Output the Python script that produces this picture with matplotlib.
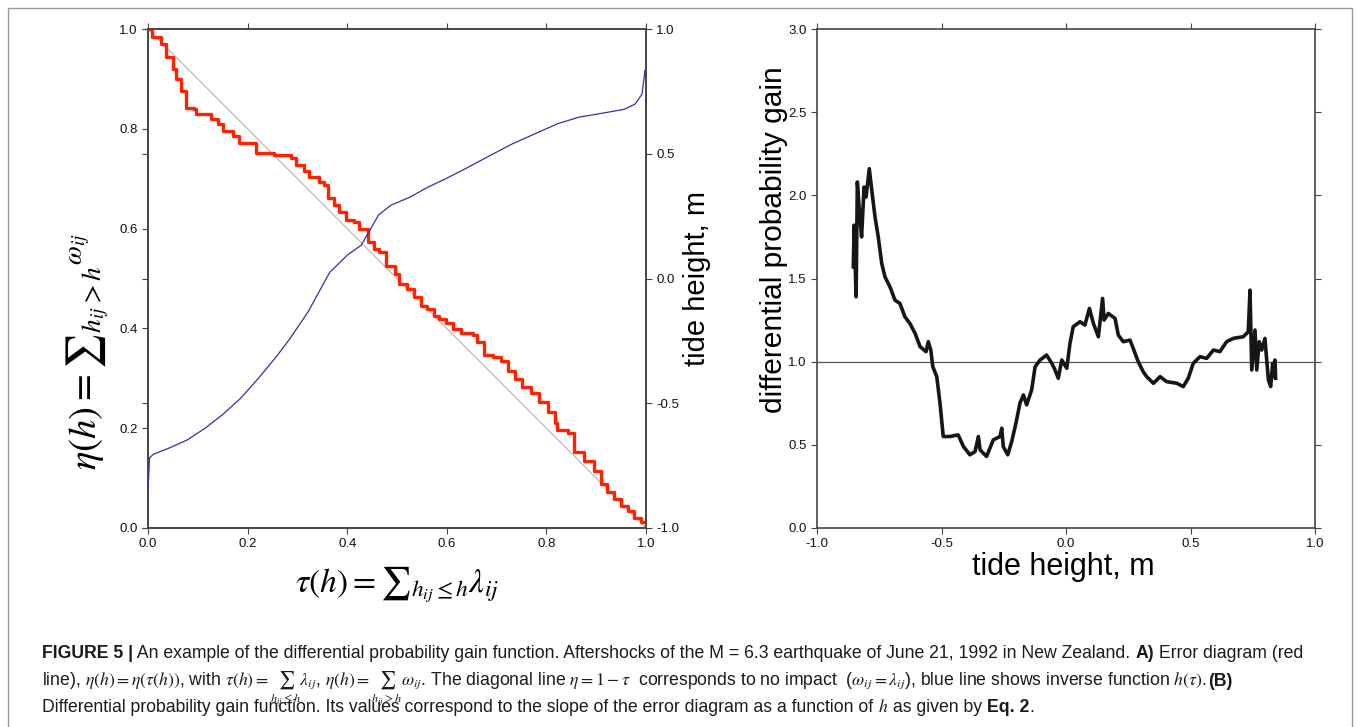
import numpy as np
import matplotlib
matplotlib.use('Agg')
import matplotlib.pyplot as plt
from matplotlib import font_manager
from matplotlib.patches import Rectangle
from matplotlib.ticker import FormatStrFormatter

# error diagram (red)
tau_err = [0.0, 0.006, 0.009, 0.026, 0.036, 0.05, 0.056, 0.066, 0.076, 0.093, 0.096, 0.123,
           0.127, 0.14, 0.15, 0.167, 0.17, 0.183, 0.214, 0.217, 0.254, 0.287, 0.297, 0.314,
           0.324, 0.344, 0.354, 0.361, 0.374, 0.384, 0.398, 0.414, 0.424, 0.441, 0.454, 0.464,
           0.478, 0.495, 0.505, 0.521, 0.535, 0.548, 0.561, 0.575, 0.584, 0.598, 0.612, 0.629,
           0.652, 0.66, 0.674, 0.692, 0.709, 0.723, 0.737, 0.752, 0.769, 0.785, 0.803, 0.817,
           0.822, 0.843, 0.856, 0.875, 0.896, 0.91, 0.922, 0.936, 0.95, 0.963, 0.976, 0.99, 1.0]
eta_err = [1.0, 1.0, 0.984, 0.97, 0.943, 0.92, 0.9, 0.876, 0.842, 0.839, 0.829, 0.829,
           0.819, 0.809, 0.795, 0.795, 0.785, 0.772, 0.772, 0.752, 0.748, 0.741, 0.728, 0.715,
           0.704, 0.694, 0.688, 0.661, 0.647, 0.634, 0.617, 0.614, 0.6, 0.573, 0.56, 0.553,
           0.526, 0.509, 0.489, 0.479, 0.462, 0.445, 0.438, 0.425, 0.418, 0.41, 0.398, 0.39,
           0.386, 0.372, 0.346, 0.342, 0.334, 0.314, 0.298, 0.283, 0.27, 0.252, 0.233, 0.21,
           0.196, 0.19, 0.152, 0.135, 0.115, 0.089, 0.072, 0.059, 0.045, 0.034, 0.021, 0.012, 0.0]

# inverse function h(tau) (blue)
tau_inv = [0.0, 0.003, 0.011, 0.042, 0.078, 0.114, 0.150, 0.185, 0.221, 0.257, 0.284, 0.321,
           0.365, 0.401, 0.428, 0.463, 0.488, 0.526, 0.562, 0.598, 0.642, 0.687, 0.732, 0.777,
           0.822, 0.866, 0.911, 0.956, 0.978, 0.992, 0.998]
h_inv = [-0.854, -0.719, -0.704, -0.680, -0.648, -0.601, -0.545, -0.482, -0.402, -0.315, -0.244,
         -0.135, 0.025, 0.095, 0.133, 0.255, 0.294, 0.326, 0.366, 0.400, 0.445, 0.493, 0.540,
         0.580, 0.620, 0.647, 0.662, 0.678, 0.699, 0.739, 0.834]

# differential probability gain (right panel)
h_dpg = [-0.854, -0.851, -0.843, -0.838, -0.830, -0.821, -0.811, -0.803, -0.790, -0.780, -0.767,
         -0.754, -0.740, -0.727, -0.707, -0.687, -0.667, -0.647, -0.627, -0.606, -0.586, -0.562,
         -0.553, -0.543, -0.535, -0.519, -0.506, -0.493, -0.466, -0.433, -0.412, -0.386, -0.365,
         -0.352, -0.345, -0.319, -0.292, -0.265, -0.258, -0.252, -0.234, -0.218, -0.201, -0.185,
         -0.171, -0.158, -0.138, -0.124, -0.104, -0.078, -0.057, -0.044, -0.031, -0.017, 0.003,
         0.016, 0.029, 0.056, 0.076, 0.094, 0.110, 0.130, 0.147, 0.153, 0.170, 0.197, 0.210,
         0.230, 0.257, 0.270, 0.290, 0.310, 0.324, 0.351, 0.378, 0.404, 0.445, 0.471, 0.491,
         0.511, 0.538, 0.565, 0.592, 0.618, 0.645, 0.672, 0.712, 0.732, 0.739, 0.746, 0.759,
         0.766, 0.776, 0.786, 0.799, 0.806, 0.813, 0.822, 0.830, 0.835, 0.839, 0.842]
gain = [1.57, 1.82, 1.39, 2.08, 1.91, 1.75, 2.05, 1.99, 2.16, 2.03, 1.87, 1.75, 1.59, 1.51,
        1.45, 1.37, 1.35, 1.27, 1.23, 1.17, 1.09, 1.06, 1.12, 1.07, 0.97, 0.91, 0.75, 0.55,
        0.55, 0.56, 0.49, 0.44, 0.46, 0.55, 0.47, 0.43, 0.53, 0.55, 0.60, 0.49, 0.44, 0.52,
        0.63, 0.75, 0.80, 0.74, 0.83, 0.97, 1.01, 1.04, 0.99, 0.95, 0.90, 1.01, 0.96, 1.11,
        1.21, 1.24, 1.22, 1.32, 1.23, 1.15, 1.38, 1.25, 1.29, 1.26, 1.16, 1.12, 1.13, 1.08,
        1.00, 0.94, 0.91, 0.87, 0.91, 0.88, 0.87, 0.85, 0.90, 0.99, 1.03, 1.02, 1.07, 1.06,
        1.12, 1.14, 1.15, 1.18, 1.43, 0.95, 1.19, 0.95, 1.12, 1.07, 1.14, 1.01, 0.89, 0.85,
        0.99, 0.91, 1.01, 0.90]

W, H = 1356, 727
plt.rcParams['font.family'] = 'Liberation Sans'
plt.rcParams['mathtext.fontset'] = 'stix'
plt.rcParams['axes.unicode_minus'] = False

fig = plt.figure(figsize=(W / 100, H / 100), dpi=100)


def fx(x):
    return x / W


def fy(y):
    return 1 - y / H


def style(a):
    for s in a.spines.values():
        s.set_color('#444444')
        s.set_linewidth(1.2)
    a.tick_params(direction='out', length=4, width=0.8, color='#444444',
                  labelsize=9.5, labelcolor='#111111')


# ---- panel A
ax = fig.add_axes([fx(148), fy(528), 498 / W, 499 / H])
ax.plot([0, 1], [1, 0], color='#b4b4b4', lw=0.8, zorder=1)
ax.plot(tau_err, eta_err, color='#ff2200', lw=2.4, drawstyle='steps-post', zorder=3)
ax.set_xlim(0, 1)
ax.set_ylim(0, 1)
ax.set_xticks(np.arange(0, 1.01, 0.2))
ax.set_yticks(np.arange(0, 1.01, 0.2))
ax.xaxis.set_major_formatter(FormatStrFormatter('%.1f'))
ax.yaxis.set_major_formatter(FormatStrFormatter('%.1f'))
style(ax)
ax.tick_params(top=True, right=True)

ax2 = ax.twinx()
ax2.plot(tau_inv, h_inv, color='#3b2ca0', lw=0.9, zorder=4)
ax2.set_ylim(-1, 1)
ax2.set_yticks([-1, -0.5, 0, 0.5, 1])
ax2.yaxis.set_major_formatter(FormatStrFormatter('%.1f'))
style(ax2)
ax2.tick_params(left=True, labelleft=False, right=True, labelright=True)

fig.text(fx(397), fy(585), r'$\tau(h) = {\sum}_{h_{ij}\leq h}\lambda_{ij}$',
         fontsize=24, ha='center', va='center')
fig.text(fx(88), fy(352), r'$\eta(h) = {\sum}_{h_{ij}>h}{}^{\omega_{ij}}$',
         fontsize=28, ha='center', va='center', rotation=90)
fig.text(fx(697), fy(278), 'tide height, m', fontsize=21, ha='center', va='center',
         rotation=90)

# ---- panel B
ax3 = fig.add_axes([fx(817), fy(528), 498 / W, 499 / H])
ax3.axhline(1.0, color='#555555', lw=0.9, zorder=1)
ax3.plot(h_dpg, gain, color='#161616', lw=2.6, zorder=3)
ax3.set_xlim(-1, 1)
ax3.set_ylim(0, 3)
ax3.set_xticks([-1, -0.5, 0, 0.5, 1])
ax3.set_yticks(np.arange(0, 3.01, 0.5))
ax3.xaxis.set_major_formatter(FormatStrFormatter('%.1f'))
ax3.yaxis.set_major_formatter(FormatStrFormatter('%.1f'))
style(ax3)
ax3.tick_params(top=True, right=True)
fig.text(fx(774), fy(240), 'differential probability gain', fontsize=21.5,
         ha='center', va='center', rotation=90)
fig.text(fx(1063), fy(567), 'tide height, m', fontsize=22, ha='center', va='center')

# ---- outer frame
fig.add_artist(Rectangle((fx(8), -0.05), (1352 - 8) / W, fy(8) + 0.05,
                         transform=fig.transFigure, fill=False,
                         edgecolor='#9a9a9a', lw=1.0))

# ---- caption
names = {f.name for f in font_manager.fontManager.ttflist}
cap_family = 'Liberation Sans Narrow' if 'Liberation Sans Narrow' in names else 'Liberation Sans'

line1 = [('FIGURE 5 |', True),
         (' An example of the differential probability gain function. Aftershocks of the '
          'M = 6.3 earthquake of June 21, 1992 in New Zealand. ', False),
         ('A)', True), (' Error diagram (red', False)]
line2 = [(r'line), $\eta(h) = \eta(\tau(h))$, with $\tau(h) = \sum_{h_{ij}\leq h}\lambda_{ij}$, '
          r'$\eta(h) = \sum_{h_{ij}>h}\omega_{ij}$. The diagonal line $\eta = 1 - \tau$  '
          r'corresponds to no impact  ($\omega_{ij} = \lambda_{ij}$), blue line shows inverse '
          r'function $h(\tau)$. ', False), ('(B)', True)]
line3 = [('Differential probability gain function. Its values correspond to the slope of the '
          'error diagram as a function of ', False), (r'$h$', False),
         (' as given by ', False), ('Eq. 2', True), ('.', False)]

renderer = fig.canvas.get_renderer()


def draw_line(pieces, x0, y, size):
    x = x0
    for s, bold in pieces:
        t = fig.text(fx(x), fy(y), s, fontsize=size, family=cap_family,
                     fontweight='bold' if bold else 'normal', ha='left', va='baseline',
                     color='#1a1a1a')
        x += t.get_window_extent(renderer=renderer).width
    return x


def measure(pieces, size):
    w = 0
    for s, bold in pieces:
        t = fig.text(0, 0, s, fontsize=size, family=cap_family,
                     fontweight='bold' if bold else 'normal')
        w += t.get_window_extent(renderer=renderer).width
        t.remove()
    return w


cap_size = 11.0 * (1300 - 42) / measure(line1, 11.0)
draw_line(line1, 42, 658, cap_size)
draw_line(line2, 42, 686, cap_size)
draw_line(line3, 42, 712, cap_size)

fig.savefig('out.png', dpi=100)
